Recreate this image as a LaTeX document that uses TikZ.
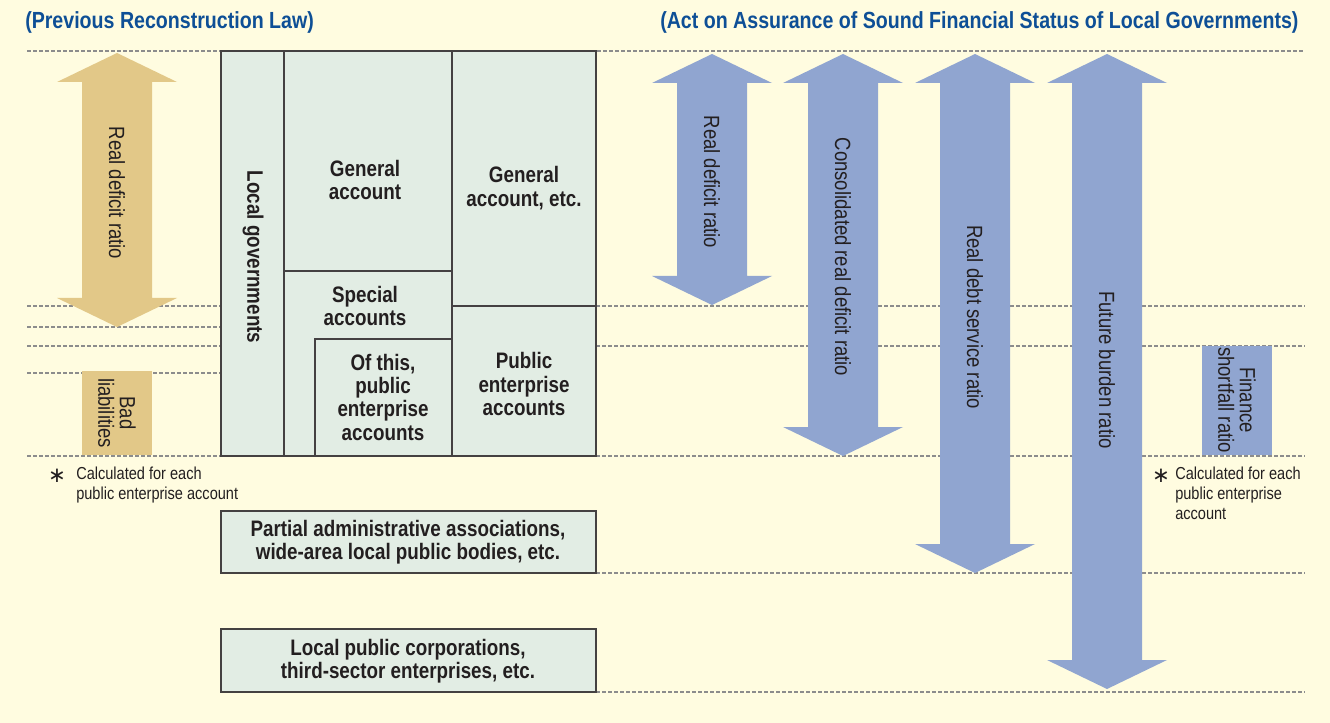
\documentclass[tikz,border=0pt]{standalone}
\usepackage{fontspec}
\setmainfont[FakeStretch=0.84]{Liberation Sans}
\newfontfamily\symfont{DejaVu Sans}
\definecolor{paper}{HTML}{FFFCE0}
\definecolor{mint}{HTML}{E2EDE4}
\definecolor{tan}{HTML}{E2C888}
\definecolor{ratioblue}{HTML}{90A5D0}
\definecolor{lawblue}{HTML}{0E4F96}
\definecolor{ink}{HTML}{231F20}
\definecolor{guidegray}{HTML}{8C8C8C}
\tikzset{
  guide/.style={guidegray, line width=0.8pt, dash pattern=on 3pt off 1.5pt},
  acctbox/.style={draw=ink!85, line width=0.9pt, fill=mint},
  acctlabel/.style={text=ink, font=\fontsize{16.8}{17.5}\selectfont\bfseries, align=center, inner sep=0pt},
  ratiolabel/.style={text=ink, font=\fontsize{16.5}{16}\selectfont, align=center, rotate=-90, inner sep=0pt},
  notelabel/.style={text=ink, font=\fontsize{13}{15}\selectfont, align=left, inner sep=0pt, anchor=north west},
  lawtitle/.style={text=lawblue, font=\fontsize{17.5}{18}\selectfont\bfseries, inner sep=0pt}
}
% double arrow: centre x, top y, bottom y, fill style
\newcommand{\ratioarrow}[4]{%
  \fill[#4] (#1,#2) -- ++(60,29) -- ++(-25,0) -- (#1+35,#3-29) -- ++(25,0)
    -- (#1,#3) -- ++(-60,-29) -- ++(25,0) -- (#1-35,#2+29) -- ++(-25,0) -- cycle;}
\begin{document}
\begin{tikzpicture}[x=0.75pt, y=-0.75pt]
  % Background
  \fill[paper] (0,0) rectangle (1330,723);
  \useasboundingbox (0,0) rectangle (1330,723);

  % Titles
  \node[lawtitle, anchor=west] (oldlaw) at (25,22) {(Previous Reconstruction Law)};
  \node[lawtitle, anchor=west] (newlaw) at (660,22) {(Act on Assurance of Sound Financial Status of Local Governments)};

  % Guide lines
  \draw[guide] (27,51) -- (1305,51);
  \foreach \y in {306,327,346,373,456}
    \draw[guide] (27,\y) -- (221,\y);
  \foreach \y in {306,346,456,573,692}
    \draw[guide] (596,\y) -- (1305,\y);

  % Accounts of local governments
  \draw[acctbox] (221,51) rectangle (596,456);
  \draw[ink!85, line width=0.9pt] (284,51) -- (284,456);
  \draw[ink!85, line width=0.9pt] (452,51) -- (452,456);
  \draw[ink!85, line width=0.9pt] (284,271) -- (452,271);
  \draw[ink!85, line width=0.9pt] (452,306) -- (596,306);
  \draw[ink!85, line width=0.9pt] (315,456) -- (315,339) -- (452,339);

  \node[acctlabel, rotate=-90] (localgov) at (253,257) {Local governments};
  \node[acctlabel] (genacct) at (365,180) {General\\account};
  \node[acctlabel] (genetc) at (524,188) {General\\account, etc.};
  \node[acctlabel] (special) at (365,306) {Special\\accounts};
  \node[acctlabel] (ofthis) at (383,397) {Of this,\\public\\enterprise\\accounts};
  \node[acctlabel] (pubent) at (524,384) {Public\\enterprise\\accounts};

  % Related bodies
  \draw[acctbox] (221,511) rectangle (596,573);
  \node[acctlabel] (partial) at (408,542) {Partial administrative associations,\\wide-area local public bodies, etc.};
  \draw[acctbox] (221,629) rectangle (596,692);
  \node[acctlabel] (corps) at (408,661) {Local public corporations,\\third-sector enterprises, etc.};

  % Previous law indicators
  \ratioarrow{117}{53}{327}{tan}
  \node[ratiolabel] (oldreal) at (117,193) {Real deficit ratio};
  \fill[tan] (82,371) rectangle (152,455);
  \node[ratiolabel] (badliab) at (117,413) {Bad\\liabilities};
  \node[text=ink, font=\symfont\fontsize{16}{16}\selectfont] (oldstar) at (57,476) {∗};
  \node[notelabel] (oldnote) at (76,467) {Calculated for each\\public enterprise account};

  % New law indicators
  \ratioarrow{712}{54}{305}{ratioblue}
  \node[ratiolabel] (realdef) at (712,182) {Real deficit ratio};
  \ratioarrow{843}{54}{456}{ratioblue}
  \node[ratiolabel] (consdef) at (843,257) {Consolidated real deficit ratio};
  \ratioarrow{975}{54}{573}{ratioblue}
  \node[ratiolabel] (debtserv) at (975,317) {Real debt service ratio};
  \ratioarrow{1107}{54}{689}{ratioblue}
  \node[ratiolabel] (future) at (1107,370) {Future burden ratio};
  \fill[ratioblue] (1202,346) rectangle (1272,455);
  \node[ratiolabel] (shortfall) at (1237,400) {Finance\\shortfall ratio};
  \node[text=ink, font=\symfont\fontsize{16}{16}\selectfont] (newstar) at (1161,476) {∗};
  \node[notelabel] (newnote) at (1175,467) {Calculated for each\\public enterprise\\account};
\end{tikzpicture}
\end{document}
